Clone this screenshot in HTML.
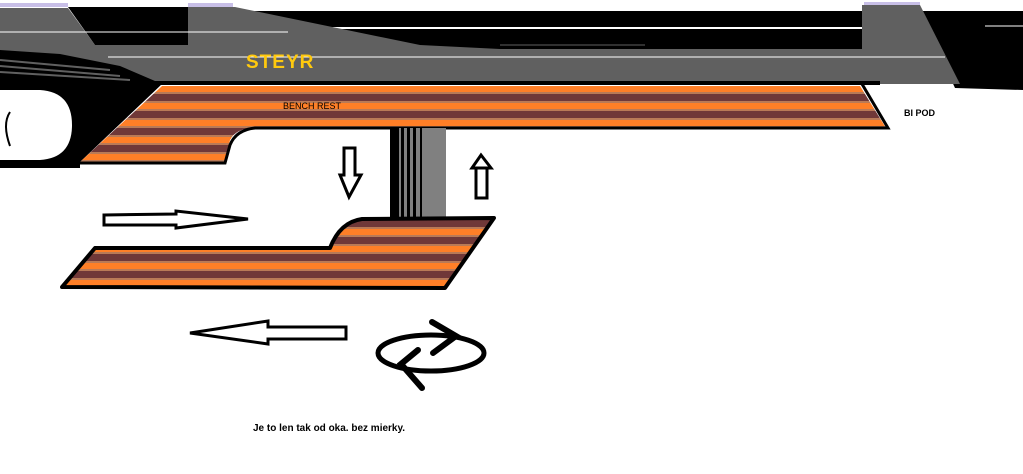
<!DOCTYPE html>
<html><head><style>
html,body{margin:0;padding:0;background:#fff;width:1023px;height:474px;overflow:hidden}
svg{display:block}
</style></head><body>
<svg width="1023" height="474" viewBox="0 0 1023 474" xmlns="http://www.w3.org/2000/svg">
<defs>
<pattern id="st" patternUnits="userSpaceOnUse" width="20" height="17" y="86">
<rect width="20" height="17" fill="#b97a57"/>
<rect y="0" width="20" height="6" fill="#ff7f27"/>
<rect y="8" width="20" height="7" fill="#703838"/>
</pattern>
<pattern id="st2" patternUnits="userSpaceOnUse" width="20" height="17" y="220">
<rect width="20" height="17" fill="#b97a57"/>
<rect y="0" width="20" height="7" fill="#703838"/>
<rect y="9" width="20" height="6" fill="#ff7f27"/>
</pattern>
</defs>
<rect x="0" y="3" width="68" height="4" fill="#c8bfe7"/>
<rect x="188" y="3" width="45" height="4" fill="#c8bfe7"/>
<rect x="864" y="2" width="56" height="4" fill="#c8bfe7"/>
<rect x="230" y="11" width="793" height="38" fill="#000"/>
<rect x="255" y="27" width="760" height="2" fill="#fff"/>
<line x1="500" y1="45" x2="645" y2="45" stroke="#606060" stroke-width="1"/>
<polygon points="920,12 1023,12 1023,90 955,88" fill="#000"/>
<line x1="985" y1="26" x2="1023" y2="26" stroke="#fff" stroke-width="1"/>
<polygon points="0,8 68,8 95,45 188,45 188,7 235,7 420,45 500,49 862,49 862,5 920,5 960,84 880,84 0,84" fill="#606060"/>
<polygon points="68,7 188,7 188,45 95,45" fill="#000"/>
<line x1="0" y1="32" x2="288" y2="32" stroke="#fff" stroke-width="1"/>
<line x1="108" y1="57" x2="945" y2="57" stroke="#fff" stroke-width="1"/>
<rect x="0" y="81" width="880" height="4" fill="#000"/>
<polygon points="0,50 60,54 120,66 162,84 80,162 80,168 0,168" fill="#000"/>
<g stroke="#606060" stroke-width="2">
<line x1="0" y1="60" x2="110" y2="70"/><line x1="0" y1="66" x2="120" y2="76"/><line x1="0" y1="72" x2="130" y2="80"/>
</g>
<path d="M0,90 L40,90 Q72,92 72,125 Q72,158 40,160 L0,160 Z" fill="#fff"/>
<path d="M10,112 Q2,124 10,146" stroke="#000" stroke-width="2" fill="none"/>
<path d="M162,86 L860,86 L886,128 L255,128 Q236,128 230,140 L225,162 L80,162 Z" fill="url(#st)"/>
<path d="M862,84 L888,128 L255,128 Q236,130 230,145 L225,163 L80,163" stroke="#000" stroke-width="3" fill="none"/>
<rect x="390" y="128" width="56" height="90" fill="#808080"/>
<g fill="#000"><rect x="390" y="128" width="9" height="90"/><rect x="401" y="128" width="3" height="90"/><rect x="407" y="128" width="3" height="90"/><rect x="413" y="128" width="3" height="90"/><rect x="420" y="128" width="2" height="90"/></g>
<path d="M62,287 L95,248 L330,248 Q340,222 362,219 L494,218 L445,288 Z" fill="url(#st2)" stroke="#000" stroke-width="4" stroke-linejoin="round"/>
<g fill="#fff" stroke="#000" stroke-width="3">
<polygon points="344,148 355,148 355,175 361,175 349,197 340,175 344,175"/>
<polygon points="104,215 176,214 176,211 248,219 176,228 176,225 104,225"/>
<polygon points="346,327 268,327 268,321 190,333 268,344 268,339 346,339"/>
</g>
<rect x="476" y="168" width="11" height="30" fill="#fff" stroke="#000" stroke-width="3"/>
<polygon points="472,168 481,155 491,168" fill="#fff" stroke="#000" stroke-width="3"/>
<ellipse cx="431" cy="353" rx="53" ry="18" fill="none" stroke="#000" stroke-width="5"/>
<g stroke="#000" stroke-width="6" stroke-linecap="round" fill="none">
<path d="M432,322 L456,336 L433,353"/>
<path d="M418,350 L401,364 L422,388"/>
</g>
<text x="246" y="68" font-family="Liberation Sans, sans-serif" font-size="19" font-weight="bold" fill="#ffc90e" letter-spacing="1">STEYR</text>
<text x="283" y="109" font-family="Liberation Sans, sans-serif" font-size="9" fill="#000">BENCH REST</text>
<text x="904" y="116" font-family="Liberation Sans, sans-serif" font-size="9" fill="#000" font-weight="bold">BI POD</text>
<text x="253" y="431" font-family="Liberation Sans, sans-serif" font-size="10" fill="#000" font-weight="bold">Je to len tak od oka. bez mierky.</text>
</svg>
</body></html>
